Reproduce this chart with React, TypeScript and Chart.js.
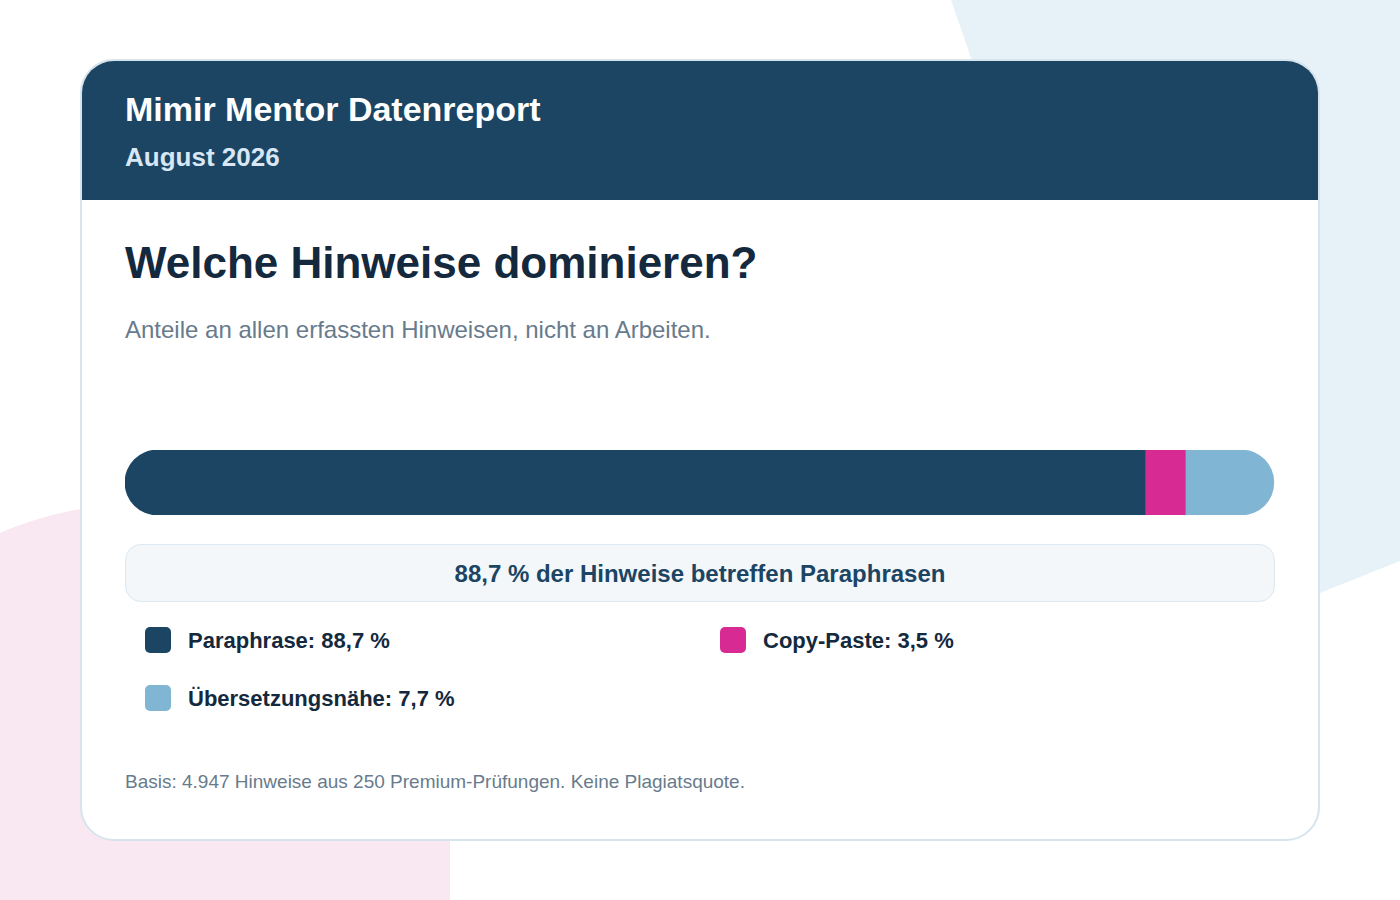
import { useEffect, useRef } from 'react'
import { Chart, registerables } from 'chart.js'

Chart.register(...registerables)

// data
const categories = ['Paraphrase', 'Copy-Paste', 'Übersetzungsnähe']
const shares = [88.7, 3.5, 7.7]
const colors = ['#1b4563', '#d72a93', '#80b6d3']
const legendOrder = [0, 1, 2]

const FONT = "'Liberation Sans', Arial, Helvetica, sans-serif"

const fmt = (v: number) => v.toFixed(1).replace('.', ',') + ' %'

// place text by baseline (line-height 1em, Liberation Sans metrics)
function Txt({ x, base, size, color, weight = 400, children, center = false, w = 0 }: any) {
  return (
    <div
      style={{
        position: 'absolute',
        left: x,
        top: base - 0.8465 * size,
        width: center ? w : undefined,
        textAlign: center ? 'center' : 'left',
        fontSize: size,
        lineHeight: `${size}px`,
        fontWeight: weight,
        color,
        whiteSpace: 'nowrap',
      }}
    >
      {children}
    </div>
  )
}

export default function App() {
  const canvasRef = useRef<HTMLCanvasElement>(null)
  const chartRef = useRef<Chart | null>(null)

  useEffect(() => {
    document.body.style.margin = '0'
    if (chartRef.current) chartRef.current.destroy()
    if (!canvasRef.current) return
    const last = shares.length - 1
    chartRef.current = new Chart(canvasRef.current, {
      type: 'bar',
      data: {
        labels: [''],
        datasets: categories.map((c, i) => ({
          label: c,
          data: [shares[i]],
          backgroundColor: colors[i],
          borderWidth: 0,
          borderSkipped: false,
          borderRadius: {
            topLeft: i === 0 ? 40 : 0,
            bottomLeft: i === 0 ? 40 : 0,
            topRight: i === last ? 40 : 0,
            bottomRight: i === last ? 40 : 0,
          },
          barPercentage: 1,
          categoryPercentage: 1,
        })),
      },
      options: {
        indexAxis: 'y',
        animation: false,
        responsive: true,
        maintainAspectRatio: false,
        layout: { padding: 0 },
        plugins: { legend: { display: false }, tooltip: { enabled: false } },
        scales: {
          x: { stacked: true, display: false, min: 0, max: 100 },
          y: { stacked: true, display: false },
        },
      },
    })
    return () => {
      if (chartRef.current) {
        chartRef.current.destroy()
        chartRef.current = null
      }
    }
  }, [])

  const top = shares.indexOf(Math.max(...shares))

  return (
    <div
      style={{
        position: 'fixed',
        left: 0,
        top: 0,
        width: 1400,
        height: 900,
        overflow: 'hidden',
        background: '#ffffff',
        fontFamily: FONT,
      }}
    >
      {/* background shapes */}
      <div
        style={{
          position: 'absolute',
          inset: 0,
          background: '#e7f2f8',
          clipPath: 'polygon(951px 0, 1400px 0, 1400px 561px, 1100px 681px, 1100px 430px)',
        }}
      />
      <div
        style={{
          position: 'absolute',
          left: -100,
          top: 503,
          width: 550,
          height: 500,
          background: '#f9e8f1',
          borderTopLeftRadius: '250px 150px',
        }}
      />

      {/* card */}
      <div
        style={{
          position: 'absolute',
          left: 80,
          top: 59,
          width: 1240,
          height: 782,
          boxSizing: 'border-box',
          border: '2px solid #d6e4ee',
          borderRadius: 34,
          background: '#ffffff',
          overflow: 'hidden',
        }}
      >
        <div style={{ position: 'absolute', left: 0, top: 0, right: 0, height: 139, background: '#1b4563' }} />
      </div>

      <Txt x={125} base={121} size={34} weight={700} color="#ffffff">Mimir Mentor Datenreport</Txt>
      <Txt x={125} base={166} size={26} weight={700} color="#d8e7f3">August 2026</Txt>
      <Txt x={125} base={278} size={44} weight={700} color="#14293d">Welche Hinweise dominieren?</Txt>
      <Txt x={125} base={338} size={24} color="#687b8c">Anteile an allen erfassten Hinweisen, nicht an Arbeiten.</Txt>

      <div style={{ position: 'absolute', left: 125, top: 450, width: 1150, height: 65 }}>
        <canvas ref={canvasRef} />
      </div>

      <div
        style={{
          position: 'absolute',
          left: 125,
          top: 544,
          width: 1150,
          height: 58,
          boxSizing: 'border-box',
          border: '1.5px solid #dde8f0',
          borderRadius: 16,
          background: '#f3f7fa',
        }}
      />
      <Txt x={125} w={1150} center base={582} size={24} weight={700} color="#1b4563">
        {fmt(shares[top])} der Hinweise betreffen {categories[top]}n
      </Txt>

      {legendOrder.map((idx, k) => {
        const col = k % 2
        const row = Math.floor(k / 2)
        const sx = 145 + col * 575
        const sy = 627 + row * 58
        return (
          <div key={idx}>
            <div
              style={{
                position: 'absolute',
                left: sx,
                top: sy,
                width: 26,
                height: 26,
                borderRadius: 5,
                background: colors[idx],
              }}
            />
            <Txt x={sx + 43} base={sy + 22} size={22} weight={700} color="#14293d">
              {categories[idx]}: {fmt(shares[idx])}
            </Txt>
          </div>
        )
      })}

      <Txt x={125} base={788} size={19} color="#687b8c">
        Basis: 4.947 Hinweise aus 250 Premium-Prüfungen. Keine Plagiatsquote.
      </Txt>
    </div>
  )
}
